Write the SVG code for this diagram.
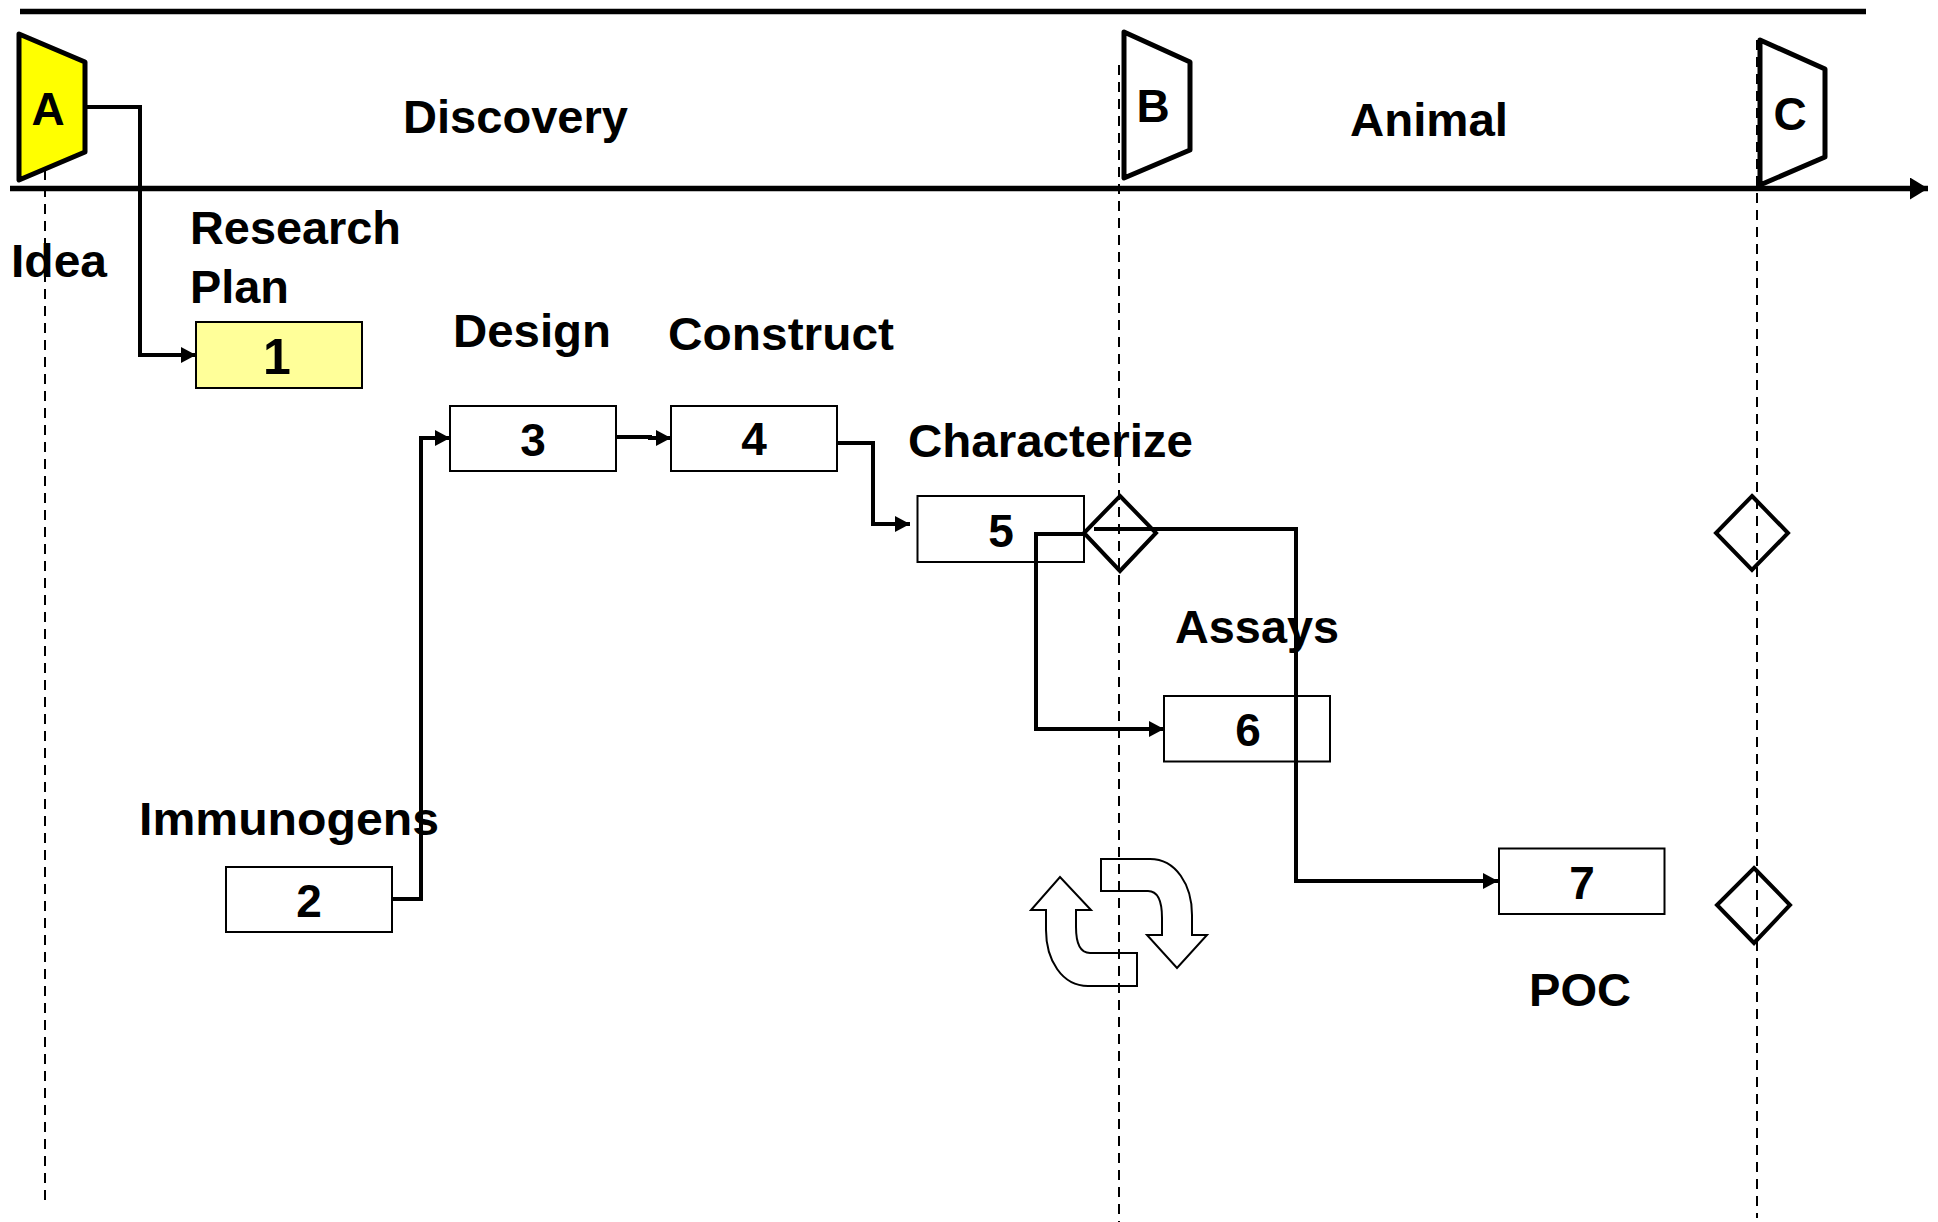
<svg xmlns="http://www.w3.org/2000/svg" width="1938" height="1222" viewBox="0 0 1938 1222">
<style>
text{font-family:"Liberation Sans",Arial,sans-serif;font-weight:700;font-size:46px;fill:#000}
.m{text-anchor:middle}
.box{fill:#fff;stroke:#000;stroke-width:2}
.gate{fill:#fff;stroke:#000;stroke-width:5;stroke-linejoin:round}
.dia{fill:none;stroke:#000;stroke-width:4}
.dash{fill:none;stroke:#000;stroke-width:2;stroke-dasharray:10 7}
.conn{fill:none;stroke:#000;stroke-width:4}
.axis{fill:none;stroke:#000;stroke-width:5.5}
.loop{fill:#fff;stroke:#000;stroke-width:2}
</style>
<defs>
<marker id="ah" markerUnits="userSpaceOnUse" markerWidth="16" markerHeight="16" refX="15" refY="8" orient="auto"><path d="M0,0L15,8L0,16Z" fill="#000"/></marker>
<marker id="ax" markerUnits="userSpaceOnUse" markerWidth="20" markerHeight="22" refX="18" refY="11" orient="auto"><path d="M0,0L18,11L0,22Z" fill="#000"/></marker>
</defs>
<rect width="1938" height="1222" fill="#fff"/>
<g id="axes">
<path class="axis" d="M20,11.5H1866"/>
<path class="axis" d="M10,188.5H1928" marker-end="url(#ax)"/>
</g>
<g id="box1"><rect class="box" x="196" y="322" width="166" height="66" style="fill:#ff9"/><text class="m" x="277" y="374" style="font-size:50px">1</text></g>
<g id="box2"><rect class="box" x="226" y="867" width="166" height="65"/><text class="m" x="309" y="917">2</text></g>
<g id="box3"><rect class="box" x="450" y="406" width="166" height="65"/><text class="m" x="533" y="456">3</text></g>
<g id="box4"><rect class="box" x="671" y="406" width="166" height="65"/><text class="m" x="754" y="455">4</text></g>
<g id="box5"><rect class="box" x="917.5" y="496" width="166.5" height="66"/><text class="m" x="1001" y="547">5</text></g>
<g id="box6"><rect class="box" x="1164" y="696" width="166" height="65.5"/><text class="m" x="1248" y="746">6</text></g>
<g id="box7"><rect class="box" x="1499" y="848.5" width="165.5" height="65.5"/><text class="m" x="1582" y="899">7</text></g>
<g id="gateA"><path class="gate" style="fill:#ff0" d="M19,34L85,62V152L19,180Z"/><text class="m" x="48" y="125">A</text></g>
<g id="gateB"><path class="gate" d="M1124,32L1190,62V150L1124,178Z"/><text class="m" x="1153" y="122">B</text></g>
<g id="gateC"><path class="gate" d="M1760,40L1825,69V157L1760,185Z"/><text class="m" x="1790" y="130">C</text></g>
<g id="decision1"><path class="dia" d="M1120,496L1156,533L1120,571L1084,533Z"/></g>
<g id="decision2"><path class="dia" d="M1752,496L1788,533L1752,570L1716,533Z"/></g>
<g id="decision3"><path class="dia" d="M1754,868L1790,905L1754,943L1717,905Z"/></g>
<g id="loop">
<path class="loop" d="M1101,859H1150C1176,859 1192,885 1192,915V935H1207L1177,968L1147,935H1162V918C1162,902 1158,891 1148,891H1101Z"/>
<path class="loop" d="M1137,986H1088C1062,986 1046,960 1046,930V910H1031L1060,877L1091,910H1076V927C1076,943 1080,953 1090,953H1137Z"/>
</g>
<g id="connectors">
<path class="dash" d="M45,170V1200"/>
<path class="dash" d="M1119,65V1222"/>
<path class="dash" d="M1757,40V1218"/>
<path class="conn" d="M85,107H140V355H196" marker-end="url(#ah)"/>
<path class="conn" d="M392,899H421V438H450" marker-end="url(#ah)"/>
<path class="conn" d="M616,437H650V438H671" marker-end="url(#ah)"/>
<path class="conn" d="M837,443H873V524H910" marker-end="url(#ah)"/>
<path class="conn" d="M1084,534H1036V729H1164" marker-end="url(#ah)"/>
<path class="conn" d="M1094,529H1296V881H1498" marker-end="url(#ah)"/>
</g>
<g id="labels">
<text x="403" y="133" textLength="225" lengthAdjust="spacingAndGlyphs">Discovery</text>
<text x="1350" y="136" textLength="158" lengthAdjust="spacingAndGlyphs">Animal</text>
<text x="11" y="277" textLength="96" lengthAdjust="spacingAndGlyphs">Idea</text>
<text x="190" y="244" textLength="211" lengthAdjust="spacingAndGlyphs">Research</text>
<text x="190" y="303" textLength="99" lengthAdjust="spacingAndGlyphs">Plan</text>
<text x="453" y="347" textLength="158" lengthAdjust="spacingAndGlyphs">Design</text>
<text x="668" y="350" textLength="226" lengthAdjust="spacingAndGlyphs">Construct</text>
<text x="908" y="457" textLength="285" lengthAdjust="spacingAndGlyphs">Characterize</text>
<text x="1175" y="643" textLength="164" lengthAdjust="spacingAndGlyphs">Assays</text>
<text x="139" y="835" textLength="300" lengthAdjust="spacingAndGlyphs">Immunogens</text>
<text x="1529" y="1006" textLength="102" lengthAdjust="spacingAndGlyphs">POC</text>
</g>
</svg>
